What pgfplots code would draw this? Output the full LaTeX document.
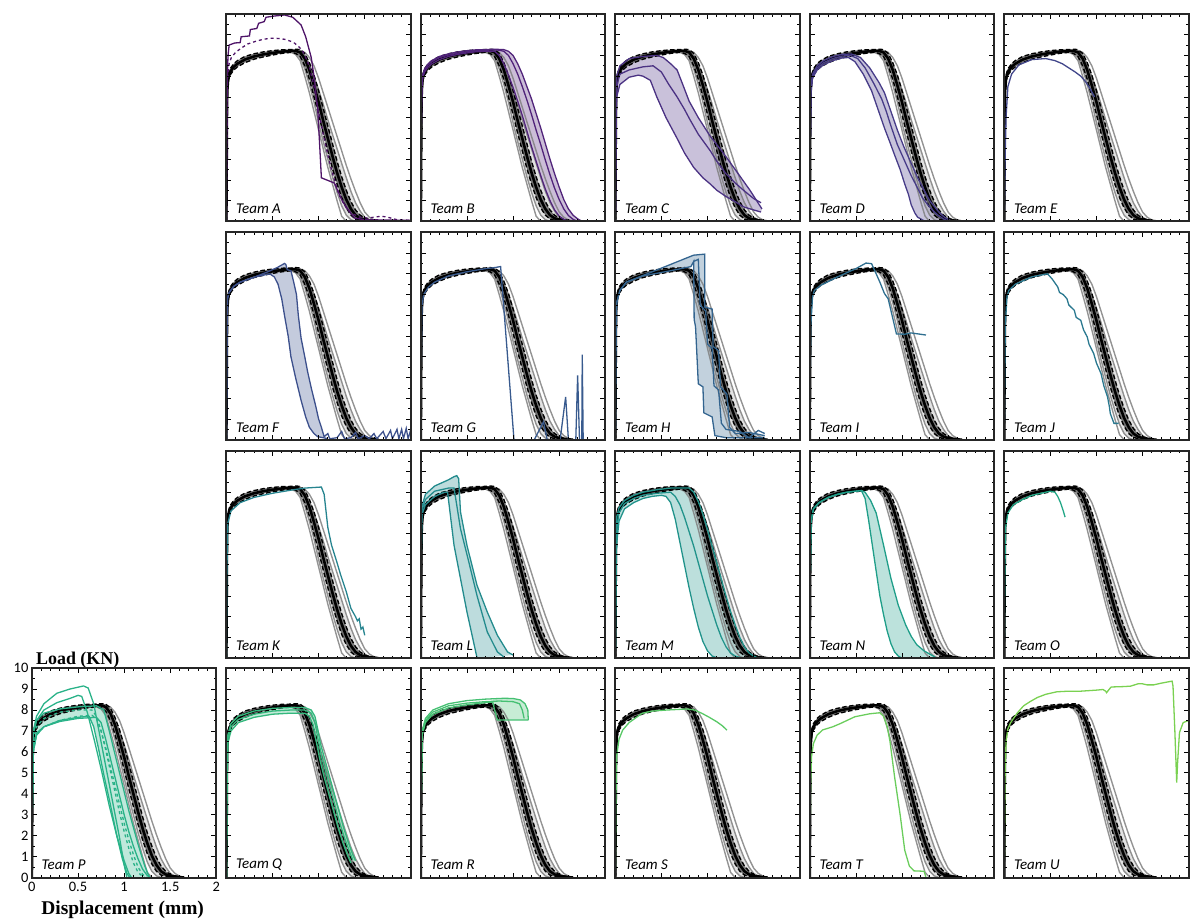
\documentclass[border=0pt]{standalone}
\usepackage{pgfplots}
\pgfplotsset{compat=1.18}
\usepgfplotslibrary{fillbetween}
\usepackage{pgfplotstable}
\usepackage{fontspec}
\setmainfont{Carlito}
\newfontfamily\carlito{Carlito}
\newfontfamily\serifb{Liberation Serif}

\definecolor{cA}{HTML}{4E1468}
\definecolor{cB}{HTML}{50237A}
\definecolor{cC}{HTML}{4B3283}
\definecolor{cD}{HTML}{473C88}
\definecolor{cE}{HTML}{41468A}
\definecolor{cF}{HTML}{3C508C}
\definecolor{cG}{HTML}{385A8E}
\definecolor{cH}{HTML}{33648F}
\definecolor{cI}{HTML}{2E6E8F}
\definecolor{cJ}{HTML}{2A788F}
\definecolor{cK}{HTML}{26848F}
\definecolor{cL}{HTML}{238B8D}
\definecolor{cM}{HTML}{21938B}
\definecolor{cN}{HTML}{1F9E89}
\definecolor{cO}{HTML}{22A786}
\definecolor{cP}{HTML}{29B288}
\definecolor{cQ}{HTML}{34B87D}
\definecolor{cR}{HTML}{45C072}
\definecolor{cS}{HTML}{58C866}
\definecolor{cT}{HTML}{6ACD5C}
\definecolor{cU}{HTML}{7AD151}

\pgfplotstableread{
x g1 g2 g3 g4 g5 g6 lo mean hi
0 0 0 0 0 0 0 0 0 0
0.003 2.4 2.5 2.5 2.6 2.6 2.5 2.3 2.5 2.7
0.006 4.8 5.0 5.0 5.1 5.2 5.0 4.7 5.0 5.3
0.01 6.2 6.3 6.3 6.4 6.5 6.3 6.1 6.3 6.5
0.02 6.85 6.9 6.9 6.95 7.0 6.9 6.75 6.9 7.05
0.04 7.15 7.2 7.2 7.25 7.3 7.2 7.05 7.2 7.35
0.08 7.4 7.45 7.45 7.5 7.55 7.45 7.3 7.45 7.6
0.12 7.55 7.6 7.6 7.65 7.7 7.6 7.45 7.6 7.75
0.2 7.75 7.8 7.8 7.85 7.9 7.8 7.65 7.8 7.95
0.3 7.9 7.95 7.95 8.0 8.05 7.95 7.82 7.95 8.08
0.4 8.0 8.05 8.05 8.1 8.12 8.05 7.93 8.05 8.17
0.5 8.08 8.12 8.12 8.16 8.2 8.12 8.02 8.12 8.23
0.6 8.12 8.17 8.18 8.2 8.24 8.17 8.1 8.18 8.27
0.7 8.15 8.18 8.2 8.22 8.25 8.22 8.15 8.22 8.28
0.75 8.05 8.12 8.2 8.22 8.25 8.22 8.1 8.22 8.3
0.8 7.75 7.9 8.1 8.18 8.22 8.2 7.95 8.15 8.28
0.85 7.0 7.35 7.7 7.9 8.15 7.95 7.5 7.85 8.1
0.9 6.2 6.6 7.05 7.35 7.9 7.55 6.85 7.3 7.65
0.95 5.3 5.75 6.3 6.65 7.5 7.0 6.0 6.55 7.05
1.0 4.4 4.75 5.5 5.9 6.9 6.35 5.15 5.75 6.3
1.05 3.5 3.85 4.7 5.1 6.2 5.65 4.25 4.85 5.45
1.1 2.6 3.0 3.9 4.3 5.5 4.9 3.4 4.0 4.6
1.15 1.8 2.15 3.1 3.5 4.8 4.2 2.55 3.15 3.75
1.2 1.0 1.4 2.35 2.7 4.1 3.5 1.8 2.35 2.9
1.25 0.25 0.75 1.6 1.95 3.4 2.8 1.15 1.65 2.15
1.3 0 0.3 1.0 1.3 2.7 2.1 0.65 1.05 1.5
1.35 0 0.08 0.55 0.8 2.05 1.45 0.3 0.6 0.95
1.4 0 0 0.25 0.45 1.45 0.9 0.12 0.3 0.55
1.45 0 0 0.08 0.2 0.9 0.5 0.05 0.15 0.3
1.5 0 0 0 0.08 0.45 0.2 0.02 0.08 0.15
1.55 0 0 0 0.02 0.2 0.07 0 0.05 0.08
1.6 0 0 0 0 0.07 0.02 0 0.02 0.04
1.65 0 0 0 0 0 0 0 0 0.01
}\reftab

\pgfplotsset{
  panel/.style={scale only axis, width=185pt, height=208pt, anchor=north west,
    xmin=0, xmax=2, ymin=0, ymax=10,
    xtick={0,0.5,1,1.5,2}, ytick={0,1,2,3,4,5,6,7,8,9,10},
    minor x tick num=4, minor y tick num=1,
    tick align=inside, major tick length=5pt, minor tick length=2.6pt,
    tick style={black, line width=0.7pt},
    axis line style={line width=2pt, black!85}, axis on top},
  nolab/.style={xticklabels={}, yticklabels={}},
  refgrey/.style={gray, line width=1.4pt, opacity=0.85},
  tl/.style={line width=1.3pt},
}

\newcommand{\refset}{%
\addplot[name path=rg2, draw=none] table[x=x,y=g2]{\reftab};
\addplot[name path=rg6, draw=none] table[x=x,y=g6]{\reftab};
\addplot[fill=gray, fill opacity=0.22] fill between[of=rg2 and rg6];
\addplot[refgrey] table[x=x,y=g1]{\reftab};
\addplot[refgrey] table[x=x,y=g2]{\reftab};
\addplot[refgrey] table[x=x,y=g3]{\reftab};
\addplot[refgrey] table[x=x,y=g4]{\reftab};
\addplot[refgrey] table[x=x,y=g5]{\reftab};
\addplot[refgrey] table[x=x,y=g6]{\reftab};
\addplot[name path=rlo, draw=none] table[x=x,y=lo]{\reftab};
\addplot[name path=rhi, draw=none] table[x=x,y=hi]{\reftab};
\addplot[fill=black!75, fill opacity=0.7] fill between[of=rlo and rhi];
\addplot[black, line width=2.6pt] table[x=x,y=mean]{\reftab};
\addplot[black, line width=1.4pt, dash pattern=on 4.5pt off 2.5pt] table[x=x,y=lo]{\reftab};
\addplot[black, line width=1.4pt, dash pattern=on 4.5pt off 2.5pt] table[x=x,y=hi]{\reftab};
}
\newcommand{\team}[1]{\node[anchor=south west, inner sep=0pt, font=\carlito\itshape\fontsize{15}{15}\selectfont] at (rel axis cs:0.052,0.035) {Team #1};}

\begin{document}
\begin{tikzpicture}
\path (0pt,0pt) rectangle (1192pt,922pt);

% ---------------- Row 0 ----------------
\begin{axis}[panel,nolab,at={(227pt,908pt)}]
\refset
\addplot[cA,tl] coordinates {(0,0)(0.004,4)(0.01,7.0)(0.018,8.0)(0.03,8.5)(0.09,8.6)(0.15,8.62)(0.16,8.9)(0.25,8.94)(0.26,9.25)(0.33,9.3)(0.35,9.55)(0.41,9.63)(0.43,9.84)(0.52,9.9)(0.63,9.95)(0.72,9.84)(0.81,9.47)(0.86,8.9)(0.92,7.9)(0.95,7.0)(0.99,5.4)(1.01,3.8)(1.03,2.1)(1.17,1.85)(1.21,1.45)(1.26,0.96)(1.32,0.56)(1.39,0.16)(1.5,0.08)(2.0,0.05)};
\addplot[cA,tl,dashed] coordinates {(0,0)(0.005,4)(0.012,6.8)(0.03,7.6)(0.054,7.9)(0.1,8.15)(0.16,8.35)(0.23,8.55)(0.31,8.67)(0.4,8.78)(0.49,8.83)(0.56,8.82)(0.63,8.78)(0.7,8.68)(0.74,8.59)(0.79,8.4)(0.83,8.19)(0.87,7.8)(0.9,7.46)(0.95,6.5)(1.0,5.3)(1.05,4.2)(1.1,3.2)(1.14,2.5)(1.19,1.7)(1.23,1.2)(1.3,0.65)(1.35,0.4)(1.45,0.2)(1.53,0.16)(1.6,0.2)(1.68,0.25)(1.75,0.2)(1.85,0.08)(2.0,0.05)};
\team{A}
\end{axis}

\begin{axis}[panel,nolab,at={(422pt,908pt)}]
\addplot[name path=Blo, draw=none] coordinates {(0,0)(0.006,5)(0.01,6.3)(0.02,6.9)(0.04,7.2)(0.08,7.45)(0.12,7.6)(0.2,7.8)(0.3,7.95)(0.4,8.05)(0.5,8.12)(0.6,8.18)(0.7,8.2)(0.8,8.2)(0.85,8.0)(0.9,7.6)(0.95,7.05)(1.0,6.45)(1.05,5.8)(1.1,5.1)(1.15,4.35)(1.2,3.6)(1.25,2.9)(1.3,2.2)(1.35,1.55)(1.4,1.0)(1.45,0.55)(1.5,0.25)(1.55,0.1)(1.6,0)};
\addplot[name path=Bhi, draw=none] coordinates {(0,0)(0.006,5.3)(0.01,6.5)(0.02,7.05)(0.04,7.35)(0.08,7.6)(0.12,7.75)(0.2,7.95)(0.3,8.08)(0.4,8.17)(0.5,8.23)(0.6,8.27)(0.7,8.28)(0.8,8.3)(0.9,8.28)(0.95,8.2)(1.0,8.0)(1.05,7.6)(1.1,7.1)(1.15,6.5)(1.2,5.9)(1.25,5.2)(1.3,4.5)(1.35,3.75)(1.4,3.0)(1.45,2.3)(1.5,1.65)(1.55,1.05)(1.6,0.6)(1.65,0.3)(1.7,0.12)(1.75,0)};
\addplot[fill=cB!30] fill between[of=Blo and Bhi];
\refset
\addplot[cB,tl] coordinates {(0,0)(0.006,5)(0.01,6.3)(0.02,6.9)(0.04,7.2)(0.08,7.45)(0.12,7.6)(0.2,7.8)(0.3,7.95)(0.4,8.05)(0.5,8.12)(0.6,8.18)(0.7,8.2)(0.8,8.2)(0.85,8.0)(0.9,7.6)(0.95,7.05)(1.0,6.45)(1.05,5.8)(1.1,5.1)(1.15,4.35)(1.2,3.6)(1.25,2.9)(1.3,2.2)(1.35,1.55)(1.4,1.0)(1.45,0.55)(1.5,0.25)(1.55,0.1)(1.6,0)};
\addplot[cB,tl] coordinates {(0,0)(0.006,5.1)(0.01,6.4)(0.02,7.0)(0.04,7.3)(0.08,7.55)(0.12,7.7)(0.2,7.9)(0.3,8.02)(0.4,8.1)(0.5,8.17)(0.6,8.22)(0.7,8.25)(0.8,8.27)(0.85,8.25)(0.9,8.2)(0.95,8.0)(1.0,7.6)(1.05,7.1)(1.1,6.5)(1.15,5.85)(1.2,5.15)(1.25,4.4)(1.3,3.7)(1.35,2.95)(1.4,2.25)(1.45,1.6)(1.5,1.05)(1.55,0.6)(1.6,0.28)(1.65,0.1)(1.7,0)};
\addplot[cB,tl] coordinates {(0,0)(0.006,5.3)(0.01,6.5)(0.02,7.05)(0.04,7.35)(0.08,7.6)(0.12,7.75)(0.2,7.95)(0.3,8.08)(0.4,8.17)(0.5,8.23)(0.6,8.27)(0.7,8.28)(0.8,8.3)(0.9,8.28)(0.95,8.2)(1.0,8.0)(1.05,7.6)(1.1,7.1)(1.15,6.5)(1.2,5.9)(1.25,5.2)(1.3,4.5)(1.35,3.75)(1.4,3.0)(1.45,2.3)(1.5,1.65)(1.55,1.05)(1.6,0.6)(1.65,0.3)(1.7,0.12)(1.75,0)};
\team{B}
\end{axis}

\begin{axis}[panel,nolab,at={(617pt,908pt)}]
\addplot[name path=Ct, draw=none] coordinates {(0,0)(0.005,4)(0.015,7.0)(0.05,7.5)(0.15,7.85)(0.3,7.95)(0.45,8.0)(0.52,7.9)(0.6,7.6)(0.67,7.3)(0.74,6.5)(0.8,5.8)(0.9,5.0)(1.03,4.1)(1.17,3.3)(1.3,2.5)(1.46,1.5)(1.59,0.6)};
\addplot[name path=Cb, draw=none] coordinates {(0,0)(0.005,3)(0.015,6.0)(0.05,6.6)(0.15,6.95)(0.25,7.05)(0.3,7.0)(0.38,6.8)(0.45,6.0)(0.55,5.0)(0.67,4.0)(0.75,3.3)(0.85,2.6)(0.95,2.1)(1.03,1.8)(1.1,1.5)(1.2,1.2)(1.3,0.95)(1.39,0.7)(1.5,0.55)(1.58,0.45)};
\addplot[fill=cC!30] fill between[of=Ct and Cb];
\refset
\addplot[cC,tl] coordinates {(0,0)(0.005,4)(0.015,7.0)(0.05,7.5)(0.15,7.85)(0.3,7.95)(0.45,8.0)(0.52,7.9)(0.6,7.6)(0.67,7.3)(0.74,6.5)(0.8,5.8)(0.9,5.0)(1.03,4.1)(1.17,3.3)(1.3,2.5)(1.46,1.5)(1.59,0.6)};
\addplot[cC,tl] coordinates {(0,0)(0.005,3.5)(0.015,6.5)(0.05,7.1)(0.15,7.3)(0.3,7.45)(0.41,7.5)(0.5,7.2)(0.58,6.6)(0.67,6.0)(0.75,5.4)(0.81,4.9)(0.9,4.2)(1.03,3.4)(1.1,2.9)(1.2,2.3)(1.3,1.85)(1.39,1.5)(1.5,1.1)(1.58,0.9)};
\addplot[cC,tl] coordinates {(0,0)(0.005,3)(0.015,6.0)(0.05,6.6)(0.15,6.95)(0.25,7.05)(0.3,7.0)(0.38,6.8)(0.45,6.0)(0.55,5.0)(0.67,4.0)(0.75,3.3)(0.85,2.6)(0.95,2.1)(1.03,1.8)(1.1,1.5)(1.2,1.2)(1.3,0.95)(1.39,0.7)(1.5,0.55)(1.58,0.45)};
\team{C}
\end{axis}

\begin{axis}[panel,nolab,at={(812pt,908pt)}]
\addplot[name path=Dl, draw=none] coordinates {(0,0)(0.005,3.5)(0.012,6.2)(0.03,6.9)(0.08,7.3)(0.15,7.55)(0.25,7.75)(0.35,7.88)(0.42,7.9)(0.49,7.7)(0.58,7.1)(0.67,6.3)(0.74,5.4)(0.81,4.5)(0.87,3.8)(0.92,3.2)(0.98,2.5)(1.03,1.8)(1.07,1.3)(1.1,0.8)(1.14,0.4)(1.17,0.2)(1.24,0.03)(1.3,0)};
\addplot[name path=Dr, draw=none] coordinates {(0,0)(0.005,3.7)(0.012,6.4)(0.03,7.1)(0.08,7.5)(0.15,7.75)(0.25,7.95)(0.35,8.05)(0.45,8.07)(0.55,7.9)(0.65,7.4)(0.75,6.7)(0.81,6.2)(0.88,5.3)(0.95,4.4)(1.02,3.6)(1.1,2.8)(1.17,2.1)(1.24,1.5)(1.3,1.0)(1.39,0.5)(1.46,0.2)(1.52,0.05)(1.56,0)};
\addplot[fill=cD!30] fill between[of=Dl and Dr];
\refset
\addplot[cD,tl] coordinates {(0,0)(0.005,3.5)(0.012,6.2)(0.03,6.9)(0.08,7.3)(0.15,7.55)(0.25,7.75)(0.35,7.88)(0.42,7.9)(0.49,7.7)(0.58,7.1)(0.67,6.3)(0.74,5.4)(0.81,4.5)(0.87,3.8)(0.92,3.2)(0.98,2.5)(1.03,1.8)(1.07,1.3)(1.1,0.8)(1.14,0.4)(1.17,0.2)(1.24,0.03)(1.3,0)};
\addplot[cD,tl] coordinates {(0,0)(0.005,3.6)(0.012,6.3)(0.03,7.0)(0.08,7.4)(0.15,7.65)(0.25,7.85)(0.35,7.97)(0.44,8.0)(0.52,7.85)(0.6,7.4)(0.7,6.6)(0.78,5.9)(0.83,5.3)(0.88,4.6)(0.95,3.7)(1.03,2.9)(1.1,2.2)(1.17,1.6)(1.22,1.15)(1.28,0.8)(1.34,0.5)(1.39,0.3)(1.45,0.12)(1.5,0)};
\addplot[cD,tl] coordinates {(0,0)(0.005,3.7)(0.012,6.4)(0.03,7.1)(0.08,7.5)(0.15,7.75)(0.25,7.95)(0.35,8.05)(0.45,8.07)(0.55,7.9)(0.65,7.4)(0.75,6.7)(0.81,6.2)(0.88,5.3)(0.95,4.4)(1.02,3.6)(1.1,2.8)(1.17,2.1)(1.24,1.5)(1.3,1.0)(1.39,0.5)(1.46,0.2)(1.52,0.05)(1.56,0)};
\team{D}
\end{axis}

\begin{axis}[panel,nolab,at={(1007pt,908pt)}]
\refset
\addplot[cE,tl] coordinates {(0,0)(0.01,3)(0.02,5)(0.04,6.5)(0.08,7.1)(0.16,7.55)(0.3,7.8)(0.45,7.85)(0.55,7.75)(0.63,7.6)(0.7,7.4)(0.77,7.2)(0.83,7.0)(0.88,6.75)(0.93,6.4)(0.98,6.0)};
\team{E}
\end{axis}

% ---------------- Row 1 ----------------
\begin{axis}[panel,nolab,at={(227pt,689pt)}]
\addplot[name path=Fu, draw=none] coordinates {(0,0)(0.005,4)(0.012,6.8)(0.03,7.1)(0.08,7.4)(0.15,7.6)(0.31,7.85)(0.45,8.1)(0.55,8.3)(0.63,8.5)(0.645,8.45)(0.66,8.2)(0.7,8.15)(0.73,7.6)(0.76,7.0)(0.78,6.0)(0.81,4.9)(0.85,4.0)(0.88,3.3)(0.92,2.5)(0.97,1.6)(1.0,1.0)(1.03,0.6)(1.06,0.15)(1.1,0.05)};
\addplot[name path=Fl, draw=none] coordinates {(0,0)(0.005,4)(0.012,6.8)(0.03,7.1)(0.08,7.4)(0.15,7.6)(0.31,7.85)(0.47,8.0)(0.52,7.85)(0.56,7.5)(0.6,6.8)(0.63,6.0)(0.67,5.0)(0.7,4.0)(0.75,3.0)(0.81,1.9)(0.86,1.1)(0.9,0.6)(0.95,0.3)(0.99,0.15)(1.05,0.1)(1.1,0.05)};
\addplot[fill=cF!30] fill between[of=Fu and Fl];
\refset
\addplot[cF,tl] coordinates {(0,0)(0.005,4)(0.012,6.8)(0.03,7.1)(0.08,7.4)(0.15,7.6)(0.31,7.85)(0.45,8.1)(0.55,8.3)(0.63,8.5)(0.645,8.45)(0.66,8.2)(0.7,8.15)(0.73,7.6)(0.76,7.0)(0.78,6.0)(0.81,4.9)(0.85,4.0)(0.88,3.3)(0.92,2.5)(0.97,1.6)(1.0,1.0)(1.03,0.6)(1.06,0.15)(1.1,0.3)(1.12,0.05)(1.2,0.1)(1.25,0.4)(1.28,0.05)(1.35,0.1)(1.4,0.35)(1.43,0.05)(1.5,0.2)(1.55,0.05)(1.6,0.3)(1.63,0.05)(1.7,0.4)(1.73,0.05)(1.78,0.45)(1.8,0.05)(1.85,0.5)(1.87,0.05)(1.9,0.5)(1.92,0.05)(1.95,0.55)(1.97,0.05)(2.0,0.5)};
\addplot[cF,tl] coordinates {(0,0)(0.005,4)(0.012,6.8)(0.03,7.1)(0.08,7.4)(0.15,7.6)(0.31,7.85)(0.47,8.0)(0.52,7.85)(0.56,7.5)(0.6,6.8)(0.63,6.0)(0.67,5.0)(0.7,4.0)(0.75,3.0)(0.81,1.9)(0.86,1.1)(0.9,0.6)(0.95,0.3)(0.99,0.15)(1.05,0.1)(1.1,0.05)};
\team{F}
\end{axis}

\begin{axis}[panel,nolab,at={(422pt,689pt)}]
\refset
\addplot[cG,tl] coordinates {(0,0)(0.005,3.5)(0.012,6.4)(0.03,7.0)(0.08,7.35)(0.15,7.6)(0.3,7.9)(0.5,8.1)(0.7,8.25)(0.8,8.3)(0.865,8.35)(1.01,0)(1.23,0)(1.33,0.87)(1.37,0)(1.51,0)(1.57,2.07)(1.6,0)(1.68,0)(1.7,3.1)(1.72,0)(1.745,0)(1.75,4.1)(1.76,0)(2,0)};
\team{G}
\end{axis}

\begin{axis}[panel,nolab,at={(617pt,689pt)}]
\addplot[name path=Hu, draw=none] coordinates {(0,0)(0.005,4)(0.015,6.6)(0.05,7.2)(0.12,7.6)(0.85,8.9)(0.97,8.95)(0.97,6.4)(1.05,6.3)(1.06,4.5)(1.12,4.3)(1.14,2.55)(1.21,2.2)(1.24,0.6)(1.3,0.3)(1.45,0.35)(1.62,0.2)};
\addplot[name path=Hl, draw=none] coordinates {(0,0)(0.005,4)(0.015,6.6)(0.05,7.2)(0.12,7.6)(0.3,7.9)(0.6,8.15)(0.82,8.35)(0.85,8.6)(0.855,5.8)(0.87,5.45)(0.9,2.7)(0.95,2.55)(0.96,1.3)(1.05,1.1)(1.08,0.2)(1.2,0.1)(1.62,0.1)};
\addplot[fill=cH!30] fill between[of=Hu and Hl];
\refset
\addplot[cH,tl] coordinates {(0,0)(0.005,4)(0.015,6.6)(0.05,7.2)(0.12,7.6)(0.85,8.9)(0.97,8.95)(0.97,6.4)(1.05,6.3)(1.06,4.5)(1.12,4.3)(1.14,2.55)(1.21,2.2)(1.24,0.6)(1.3,0.3)(1.45,0.35)(1.62,0.2)};
\addplot[cH,tl] coordinates {(0,0)(0.005,4)(0.015,6.6)(0.05,7.2)(0.12,7.6)(0.3,7.9)(0.6,8.15)(0.82,8.35)(0.85,8.6)(0.855,5.8)(0.87,5.45)(0.9,2.7)(0.95,2.55)(0.96,1.3)(1.05,1.1)(1.08,0.2)(1.2,0.1)(1.62,0.1)};
\addplot[cH,tl] coordinates {(0.85,8.6)(0.9,8.7)(0.92,6.5)(0.98,6.2)(1.0,4.6)(1.05,4.4)(1.07,2.6)(1.12,2.4)(1.15,0.8)(1.2,0.5)(1.35,0.4)(1.45,0.1)(1.55,0.45)(1.62,0.3)};
\team{H}
\end{axis}

\begin{axis}[panel,nolab,at={(812pt,689pt)}]
\refset
\addplot[cI,tl] coordinates {(0,0)(0.005,3)(0.012,5.5)(0.03,6.9)(0.05,7.2)(0.12,7.45)(0.3,7.85)(0.5,8.25)(0.61,8.52)(0.67,8.49)(0.72,8.0)(0.76,7.6)(0.81,7.05)(0.85,6.8)(0.94,5.1)(1.03,5.09)(1.1,5.15)(1.26,5.05)};
\team{I}
\end{axis}

\begin{axis}[panel,nolab,at={(1007pt,689pt)}]
\refset
\addplot[cJ,tl] coordinates {(0,0)(0.005,3)(0.012,5.5)(0.03,6.9)(0.05,7.2)(0.12,7.5)(0.3,7.85)(0.47,8.0)(0.52,7.75)(0.58,7.37)(0.6,7.1)(0.64,7.0)(0.68,6.8)(0.7,6.5)(0.76,6.24)(0.78,5.9)(0.83,5.76)(0.86,5.3)(0.9,4.96)(0.92,4.6)(0.97,4.16)(1.0,3.7)(1.05,3.19)(1.08,2.6)(1.12,2.07)(1.14,1.6)(1.15,1.27)(1.19,0.79)(1.24,0.79)};
\team{J}
\end{axis}

% ---------------- Row 2 ----------------
\begin{axis}[panel,nolab,at={(227pt,470pt)}]
\refset
\addplot[cK,tl] coordinates {(0,0)(0.005,4)(0.015,6.5)(0.05,7.1)(0.15,7.5)(0.3,7.75)(0.5,7.95)(0.7,8.1)(0.85,8.2)(1.03,8.25)(1.06,7.9)(1.1,6.3)(1.14,5.45)(1.2,4.6)(1.24,4.0)(1.3,3.2)(1.35,2.4)(1.4,2.0)(1.42,1.8)(1.44,1.9)(1.46,1.4)(1.48,1.5)(1.5,1.1)};
\team{K}
\end{axis}

\begin{axis}[panel,nolab,at={(422pt,470pt)}]
\addplot[name path=Lu, draw=none] coordinates {(0,0)(0.004,5)(0.01,7.3)(0.05,7.9)(0.15,8.3)(0.3,8.6)(0.36,8.75)(0.39,8.8)(0.41,8.65)(0.43,7.05)(0.5,5.44)(0.61,3.5)(0.72,2.23)(0.83,1.1)(0.94,0.3)(1.0,0.15)};
\addplot[name path=Ll, draw=none] coordinates {(0,0)(0.004,4.5)(0.01,6.9)(0.05,7.4)(0.15,7.8)(0.25,8.0)(0.29,8.0)(0.36,5.44)(0.5,2.23)(0.61,0)};
\addplot[fill=cL!30] fill between[of=Lu and Ll];
\refset
\team{L}
\addplot[cL,tl] coordinates {(0,0)(0.004,5)(0.01,7.3)(0.05,7.9)(0.15,8.3)(0.3,8.6)(0.36,8.75)(0.39,8.8)(0.41,8.65)(0.43,7.05)(0.5,5.44)(0.61,3.5)(0.72,2.23)(0.83,1.1)(0.94,0.3)(1.0,0.15)};
\addplot[cL,tl] coordinates {(0,0)(0.004,4.5)(0.01,6.9)(0.05,7.4)(0.15,7.8)(0.25,8.0)(0.29,8.0)(0.36,5.44)(0.5,2.23)(0.61,0)};
\addplot[cL,tl] coordinates {(0,0)(0.004,4.8)(0.01,7.1)(0.05,7.65)(0.15,8.05)(0.3,8.2)(0.36,8.2)(0.43,6.24)(0.52,4.64)(0.61,3.0)(0.72,1.27)(0.83,0.3)(0.9,0.06)};
\end{axis}

\begin{axis}[panel,nolab,at={(617pt,470pt)}]
\addplot[name path=Mt, draw=none] coordinates {(0,0)(0.005,3.9)(0.015,6.8)(0.04,7.25)(0.1,7.6)(0.2,7.85)(0.3,8.0)(0.45,8.12)(0.6,8.2)(0.8,8.2)(0.85,8.0)(0.9,7.55)(0.95,6.95)(1.0,6.2)(1.05,5.4)(1.1,4.6)(1.15,3.8)(1.2,3.0)(1.25,2.25)(1.3,1.6)(1.35,1.0)(1.4,0.55)(1.45,0.25)(1.5,0.1)(1.55,0)};
\addplot[name path=Ml, draw=none] coordinates {(0,0)(0.005,3)(0.015,5.5)(0.04,6.6)(0.1,7.2)(0.2,7.5)(0.3,7.7)(0.4,7.8)(0.5,7.85)(0.55,7.8)(0.6,7.5)(0.65,6.7)(0.7,5.6)(0.75,4.5)(0.8,3.4)(0.85,2.4)(0.9,1.5)(0.95,0.8)(1.0,0.35)(1.05,0.1)(1.1,0.02)};
\addplot[fill=cM!30] fill between[of=Mt and Ml];
\refset
\addplot[cM,tl] coordinates {(0,0)(0.005,3.9)(0.015,6.8)(0.04,7.25)(0.1,7.6)(0.2,7.85)(0.3,8.0)(0.45,8.12)(0.6,8.2)(0.8,8.2)(0.85,8.0)(0.9,7.55)(0.95,6.95)(1.0,6.2)(1.05,5.4)(1.1,4.6)(1.15,3.8)(1.2,3.0)(1.25,2.25)(1.3,1.6)(1.35,1.0)(1.4,0.55)(1.45,0.25)(1.5,0.1)(1.55,0)};
\addplot[cM,tl] coordinates {(0,0)(0.005,3.5)(0.015,6.2)(0.04,7.0)(0.1,7.45)(0.2,7.7)(0.3,7.85)(0.45,7.95)(0.6,8.0)(0.65,7.8)(0.7,7.4)(0.75,6.8)(0.8,6.1)(0.85,5.4)(0.9,4.6)(0.95,3.8)(1.0,3.0)(1.05,2.3)(1.1,1.6)(1.15,1.0)(1.2,0.55)(1.25,0.25)(1.3,0.1)(1.38,0)};
\addplot[cM,tl] coordinates {(0,0)(0.005,3)(0.015,5.5)(0.04,6.6)(0.1,7.2)(0.2,7.5)(0.3,7.7)(0.4,7.8)(0.5,7.85)(0.55,7.8)(0.6,7.5)(0.65,6.7)(0.7,5.6)(0.75,4.5)(0.8,3.4)(0.85,2.4)(0.9,1.5)(0.95,0.8)(1.0,0.35)(1.05,0.1)(1.1,0.02)};
\team{M}
\end{axis}

\begin{axis}[panel,nolab,at={(812pt,470pt)}]
\addplot[name path=Nl, draw=none] coordinates {(0,0)(0.005,3.8)(0.015,6.6)(0.04,7.2)(0.1,7.5)(0.2,7.75)(0.3,7.9)(0.4,8.0)(0.5,8.05)(0.56,8.08)(0.6,7.7)(0.64,6.6)(0.68,5.4)(0.72,4.2)(0.76,3.0)(0.8,2.1)(0.84,1.3)(0.88,0.7)(0.92,0.3)(0.96,0.1)(1.0,0)};
\addplot[name path=Nr, draw=none] coordinates {(0,0)(0.005,3.8)(0.015,6.6)(0.04,7.2)(0.1,7.5)(0.2,7.75)(0.3,7.9)(0.4,8.0)(0.5,8.05)(0.56,8.08)(0.6,8.0)(0.66,7.6)(0.72,7.0)(0.8,5.45)(0.88,3.85)(0.96,2.55)(1.04,1.6)(1.1,1.05)(1.16,0.65)(1.24,0.35)(1.32,0.15)(1.36,0.05)};
\addplot[fill=cN!30] fill between[of=Nl and Nr];
\refset
\addplot[cN,tl] coordinates {(0,0)(0.005,3.8)(0.015,6.6)(0.04,7.2)(0.1,7.5)(0.2,7.75)(0.3,7.9)(0.4,8.0)(0.5,8.05)(0.56,8.08)(0.6,7.7)(0.64,6.6)(0.68,5.4)(0.72,4.2)(0.76,3.0)(0.8,2.1)(0.84,1.3)(0.88,0.7)(0.92,0.3)(0.96,0.1)(1.0,0)};
\addplot[cN,tl] coordinates {(0,0)(0.005,3.8)(0.015,6.6)(0.04,7.2)(0.1,7.5)(0.2,7.75)(0.3,7.9)(0.4,8.0)(0.5,8.05)(0.56,8.08)(0.6,8.0)(0.66,7.6)(0.72,7.0)(0.8,5.45)(0.88,3.85)(0.96,2.55)(1.04,1.6)(1.1,1.05)(1.16,0.65)(1.24,0.35)(1.32,0.15)(1.36,0.05)};
\team{N}
\end{axis}

\begin{axis}[panel,nolab,at={(1007pt,470pt)}]
\refset
\addplot[cO,tl] coordinates {(0,0)(0.005,3.5)(0.015,6.3)(0.04,7.0)(0.1,7.4)(0.2,7.65)(0.3,7.85)(0.4,7.95)(0.5,8.05)(0.55,8.0)(0.58,7.8)(0.61,7.5)(0.64,7.1)(0.66,6.8)};
\team{O}
\end{axis}

% ---------------- Row 3 ----------------
\begin{axis}[panel,height=210pt,at={(32pt,252pt)},
  /pgf/number format/assume math mode=true,
  ticklabel style={font=\carlito\fontsize{14.5}{15}\selectfont},
  xticklabel style={yshift=-1pt}]
\addplot[name path=Pu, draw=none] coordinates {(0,0)(0.005,4)(0.015,6.9)(0.05,7.5)(0.13,7.85)(0.3,8.05)(0.5,8.15)(0.7,8.2)(0.78,8.0)(0.85,6.8)(0.95,5.0)(1.05,3.2)(1.15,1.6)(1.22,0.6)(1.26,0.15)(1.28,0)};
\addplot[name path=Pl, draw=none] coordinates {(0,0)(0.005,3.5)(0.015,6.0)(0.05,6.8)(0.13,7.2)(0.3,7.5)(0.5,7.65)(0.62,7.7)(0.67,7.2)(0.72,6.2)(0.78,4.9)(0.85,3.5)(0.92,2.0)(0.98,0.9)(1.03,0.2)(1.06,0)};
\addplot[fill=cP!30] fill between[of=Pu and Pl];
\refset
\addplot[cP,tl] coordinates {(0,0)(0.005,4)(0.015,7.0)(0.05,7.7)(0.13,8.3)(0.27,8.8)(0.41,9.0)(0.56,9.15)(0.61,9.05)(0.67,8.3)(0.74,6.7)(0.81,5.1)(0.88,3.5)(0.95,1.9)(1.0,0.6)(1.03,0)};
\addplot[cP,tl] coordinates {(0,0)(0.005,4)(0.015,6.9)(0.05,7.5)(0.13,8.0)(0.27,8.35)(0.41,8.55)(0.5,8.7)(0.54,8.65)(0.6,7.9)(0.68,6.5)(0.76,5.0)(0.84,3.4)(0.92,2.0)(1.0,0.8)(1.05,0.2)(1.08,0)};
\addplot[cP,tl] coordinates {(0,0)(0.005,4)(0.015,6.9)(0.05,7.5)(0.13,7.85)(0.3,8.05)(0.5,8.15)(0.7,8.2)(0.78,8.0)(0.85,6.8)(0.95,5.0)(1.05,3.2)(1.15,1.6)(1.22,0.6)(1.26,0.15)(1.28,0)};
\addplot[cP,tl] coordinates {(0,0)(0.005,3.5)(0.015,6.2)(0.05,6.9)(0.13,7.2)(0.3,7.45)(0.5,7.6)(0.7,7.65)(0.75,7.4)(0.8,6.6)(0.85,5.7)(0.9,4.8)(0.95,3.9)(1.0,3.0)(1.05,2.2)(1.1,1.5)(1.15,0.9)(1.2,0.4)(1.25,0.1)(1.28,0)};
\addplot[cP,tl,dashed] coordinates {(0,0)(0.005,3.8)(0.015,6.6)(0.05,7.2)(0.13,7.6)(0.3,7.9)(0.5,8.0)(0.65,8.0)(0.7,7.7)(0.75,7.0)(0.8,6.1)(0.85,5.1)(0.9,4.1)(0.95,3.1)(1.0,2.2)(1.05,1.4)(1.1,0.7)(1.15,0.25)(1.2,0.05)(1.22,0)};
\addplot[cP,tl,dashed] coordinates {(0,0)(0.005,3.5)(0.015,6.0)(0.05,6.8)(0.13,7.2)(0.3,7.5)(0.5,7.7)(0.65,7.75)(0.7,7.6)(0.75,7.0)(0.8,6.2)(0.85,5.3)(0.9,4.4)(0.95,3.5)(1.0,2.6)(1.05,1.8)(1.1,1.1)(1.15,0.5)(1.2,0.15)(1.25,0)};
\addplot[cP,tl] coordinates {(0,0)(0.005,3.5)(0.015,6.0)(0.05,6.8)(0.13,7.2)(0.3,7.5)(0.5,7.65)(0.62,7.7)(0.67,7.2)(0.72,6.2)(0.78,4.9)(0.85,3.5)(0.92,2.0)(0.98,0.9)(1.03,0.2)(1.06,0)};
\team{P}
\end{axis}

\begin{axis}[panel,nolab,height=210pt,at={(227pt,252pt)}]
\addplot[name path=Qu, draw=none] coordinates {(0,0)(0.005,3.9)(0.015,6.8)(0.05,7.35)(0.13,7.7)(0.3,7.95)(0.5,8.08)(0.7,8.12)(0.85,8.12)(0.92,8.0)(0.96,7.7)(0.99,7.1)(1.02,6.4)(1.07,5.6)(1.12,4.8)(1.17,4.0)(1.22,3.2)(1.27,2.4)(1.32,1.7)(1.37,1.1)(1.4,0.8)};
\addplot[name path=Ql, draw=none] coordinates {(0,0)(0.005,3.6)(0.015,6.4)(0.05,7.0)(0.13,7.4)(0.3,7.65)(0.5,7.8)(0.7,7.85)(0.85,7.85)(0.9,7.7)(0.94,7.3)(0.97,6.6)(1.01,5.7)(1.06,4.8)(1.11,4.0)(1.16,3.2)(1.21,2.4)(1.26,1.7)(1.31,1.1)(1.35,0.7)};
\addplot[fill=cQ!30] fill between[of=Qu and Ql];
\refset
\addplot[cQ,tl] coordinates {(0,0)(0.005,3.9)(0.015,6.8)(0.05,7.35)(0.13,7.7)(0.3,7.95)(0.5,8.08)(0.7,8.12)(0.85,8.12)(0.92,8.0)(0.96,7.7)(0.99,7.1)(1.02,6.4)(1.07,5.6)(1.12,4.8)(1.17,4.0)(1.22,3.2)(1.27,2.4)(1.32,1.7)(1.37,1.1)(1.4,0.8)};
\addplot[cQ,tl] coordinates {(0,0)(0.005,3.8)(0.015,6.6)(0.05,7.2)(0.13,7.55)(0.3,7.8)(0.5,7.95)(0.7,8.0)(0.85,8.0)(0.92,7.85)(0.96,7.4)(0.99,6.7)(1.03,5.8)(1.08,5.0)(1.13,4.2)(1.18,3.4)(1.23,2.6)(1.28,1.9)(1.33,1.3)(1.37,0.85)};
\addplot[cQ,tl] coordinates {(0,0)(0.005,3.6)(0.015,6.4)(0.05,7.0)(0.13,7.4)(0.3,7.65)(0.5,7.8)(0.7,7.85)(0.85,7.85)(0.9,7.7)(0.94,7.3)(0.97,6.6)(1.01,5.7)(1.06,4.8)(1.11,4.0)(1.16,3.2)(1.21,2.4)(1.26,1.7)(1.31,1.1)(1.35,0.7)};
\team{Q}
\end{axis}

\begin{axis}[panel,nolab,height=210pt,at={(422pt,252pt)}]
\addplot[name path=Ru, draw=none] coordinates {(0.78,8.5)(0.9,8.56)(1.0,8.55)(1.08,8.48)(1.13,8.3)(1.16,8.0)(1.165,7.52)};
\addplot[name path=Rl, draw=none] coordinates {(0.78,8.38)(0.8,8.0)(0.83,7.52)(1.165,7.52)};
\addplot[fill=cR!30] fill between[of=Ru and Rl];
\refset
\addplot[cR,tl] coordinates {(0,0)(0.005,4)(0.015,7.0)(0.05,7.6)(0.13,8.0)(0.3,8.3)(0.5,8.45)(0.7,8.52)(0.9,8.56)(1.0,8.55)(1.08,8.48)(1.13,8.3)(1.16,8.0)(1.165,7.52)};
\addplot[cR,tl] coordinates {(0,0)(0.005,4)(0.015,6.9)(0.05,7.5)(0.13,7.9)(0.3,8.2)(0.5,8.33)(0.7,8.4)(0.85,8.43)(1.0,8.4)(1.07,8.3)(1.1,8.0)(1.12,7.6)};
\addplot[cR,tl] coordinates {(0,0)(0.005,3.9)(0.015,6.8)(0.05,7.4)(0.13,7.8)(0.3,8.1)(0.5,8.25)(0.7,8.35)(0.78,8.38)(0.8,8.0)(0.83,7.52)(1.165,7.52)};
\team{R}
\end{axis}

\begin{axis}[panel,nolab,height=210pt,at={(617pt,252pt)}]
\refset
\addplot[cS,tl] coordinates {(0,0)(0.005,3.2)(0.015,5.8)(0.04,6.6)(0.08,7.04)(0.15,7.4)(0.29,7.84)(0.4,7.95)(0.56,8.0)(0.78,8.05)(0.86,8.0)(0.94,7.84)(1.02,7.65)(1.1,7.44)(1.16,7.25)(1.21,7.04)};
\team{S}
\end{axis}

\begin{axis}[panel,nolab,height=210pt,at={(812pt,252pt)}]
\refset
\addplot[cT,tl] coordinates {(0,0)(0.004,2)(0.01,4.5)(0.02,5.8)(0.04,6.4)(0.08,6.8)(0.14,7.05)(0.25,7.2)(0.33,7.35)(0.49,7.68)(0.65,7.82)(0.76,7.87)(0.8,7.7)(0.84,7.2)(0.87,6.5)(0.92,4.8)(0.98,3.0)(1.03,1.3)(1.08,0.55)(1.13,0.32)(1.24,0.3)(1.26,0)};
\team{T}
\end{axis}

\begin{axis}[panel,nolab,height=210pt,at={(1007pt,252pt)}]
\refset
\addplot[cU,tl] coordinates {(0,0)(0.004,2.5)(0.01,5.0)(0.02,6.5)(0.04,7.1)(0.07,7.4)(0.14,7.85)(0.21,8.2)(0.28,8.4)(0.36,8.6)(0.45,8.75)(0.57,8.87)(0.7,8.9)(0.83,8.9)(1.0,8.95)(1.07,8.98)(1.1,8.9)(1.11,8.83)(1.14,9.0)(1.16,9.1)(1.3,9.12)(1.37,9.14)(1.45,9.25)(1.5,9.25)(1.55,9.2)(1.62,9.2)(1.7,9.28)(1.82,9.38)(1.83,9.14)(1.85,7.0)(1.87,4.54)(1.88,5.5)(1.9,6.92)(1.94,7.4)(2.0,7.5)};
\team{U}
\end{axis}

\node[anchor=base west, inner sep=0pt, font=\serifb\bfseries\fontsize{18}{18}\selectfont] at (36pt,256pt) {Load (KN)};
\node[anchor=base, inner sep=0pt, font=\serifb\bfseries\fontsize{19.5}{20}\selectfont] at (123pt,5pt) {Displacement (mm)};
\end{tikzpicture}
\end{document}
